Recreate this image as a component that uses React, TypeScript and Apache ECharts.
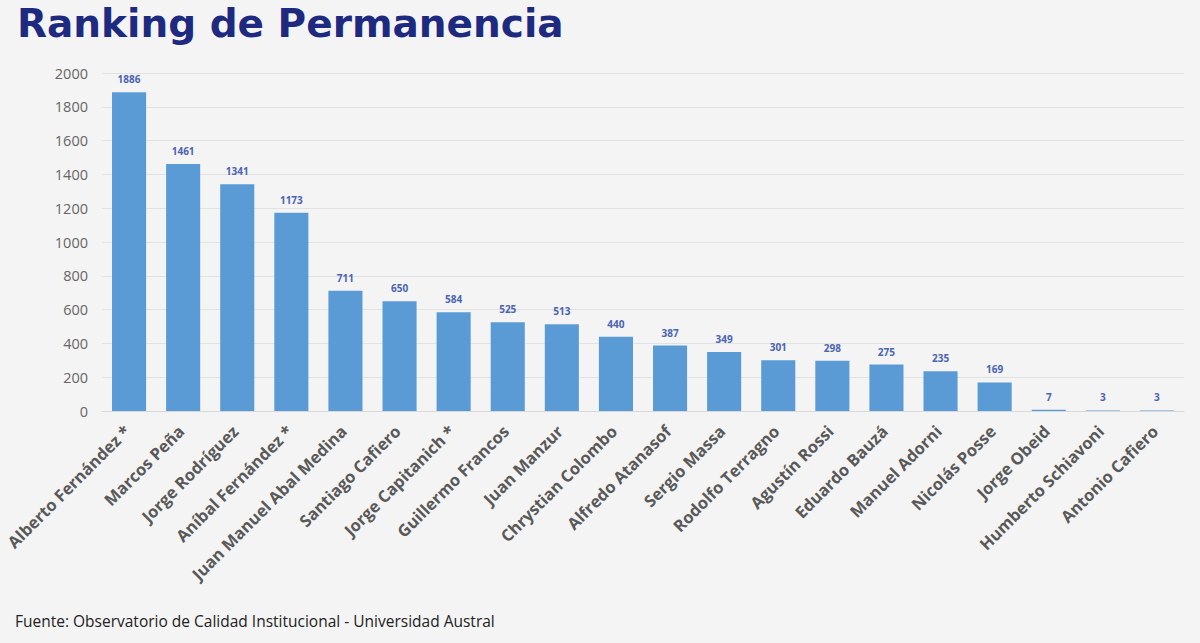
import React, { useEffect, useRef } from "react";
import * as echarts from "echarts";

const categories = [
  "Alberto Fernández *",
  "Marcos Peña",
  "Jorge Rodríguez",
  "Aníbal Fernández *",
  "Juan Manuel Abal Medina",
  "Santiago Cafiero",
  "Jorge Capitanich *",
  "Guillermo Francos",
  "Juan Manzur",
  "Chrystian Colombo",
  "Alfredo Atanasof",
  "Sergio Massa",
  "Rodolfo Terragno",
  "Agustín Rossi",
  "Eduardo Bauzá",
  "Manuel Adorni",
  "Nicolás Posse",
  "Jorge Obeid",
  "Humberto Schiavoni",
  "Antonio Cafiero",
];
const days = [1886, 1461, 1341, 1173, 711, 650, 584, 525, 513, 440, 387, 349, 301, 298, 275, 235, 169, 7, 3, 3];
const yTicks = { min: 0, max: 2000, interval: 200 };
const titleText = "Ranking de Permanencia";
const sourceText = "Fuente: Observatorio de Calidad Institucional - Universidad Austral";

export default function App() {
  const ref = useRef<HTMLDivElement>(null);
  useEffect(() => {
    if (!ref.current) return;
    const chart = echarts.init(ref.current, null, { renderer: "svg" });
    chart.setOption({
      animation: false,
      backgroundColor: "#f4f4f4",
      title: [
        {
          text: titleText,
          left: 17,
          top: 4,
          padding: 0,
          textStyle: {
            fontFamily: "DejaVu Sans",
            fontWeight: "bold",
            fontSize: 39,
            color: "#1d2a80",
          },
        },
        {
          text: sourceText,
          left: 15,
          top: 613,
          padding: 0,
          textStyle: {
            fontFamily: "Open Sans",
            fontWeight: "normal",
            fontSize: 15.5,
            color: "#222222",
          },
        },
      ],
      grid: {
        left: 102,
        right: 16,
        top: 73,
        bottom: 232,
        containLabel: false,
        outerBoundsMode: "none",
      },
      xAxis: {
        type: "category",
        data: categories,
        axisTick: { show: false },
        axisLine: { lineStyle: { color: "#d9d9d9" } },
        axisLabel: {
          rotate: 45,
          interval: 0,
          margin: 15,
          padding: [0, 3, 0, 0],
          color: "#595959",
          fontFamily: "Open Sans",
          fontWeight: "bold",
          fontSize: 16.5,
        },
      },
      yAxis: {
        type: "value",
        min: yTicks.min,
        max: yTicks.max,
        interval: yTicks.interval,
        axisLine: { show: false },
        axisTick: { show: false },
        splitLine: { lineStyle: { color: "#e2e2e2" } },
        axisLabel: {
          color: "#666666",
          fontFamily: "Open Sans",
          fontSize: 14.5,
          margin: 14,
          formatter: (v: number) => String(v),
        },
      },
      series: [
        {
          type: "bar",
          data: days,
          barWidth: "63%",
          itemStyle: { color: "#5b9bd5" },
          label: {
            show: true,
            position: "top",
            distance: 8,
            color: "#4a63b3",
            fontFamily: "Open Sans",
            fontWeight: "bold",
            fontSize: 10,
          },
        },
      ],
    });
    return () => chart.dispose();
  }, []);
  return (
    <div
      ref={ref}
      style={{ position: "fixed", left: 0, top: 0, width: 1200, height: 643 }}
    />
  );
}
